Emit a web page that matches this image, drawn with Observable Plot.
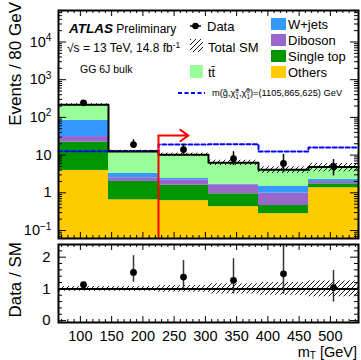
<!DOCTYPE html>
<html><head><meta charset="utf-8">
<script src="https://cdn.jsdelivr.net/npm/d3@7"></script>
<script src="https://cdn.jsdelivr.net/npm/@observablehq/plot@0.6"></script>
<style>
body{margin:0;background:#fff;}
#chart{width:361px;height:360px;position:relative;overflow:hidden;background:#fff;}
#chart svg{display:block;}
</style></head><body><div id="chart"></div>
<script>
// ---------- data ----------
const binEdges   = [65, 145, 225, 305, 385, 465, 545];      // mT [GeV], 80 GeV bins
const others     = [3.9, 0.65, 0.62, 0.43, 0.28, 1.36];
const singleTop  = [18.1, 1.35, 0.98, 0.51, 0.18, 0.37];
const diboson    = [9, 0.5, 0.6, 0.69, 0.52, 0.27];
const wjets      = [52, 0.8, 0.2, 0.07, 0.49, 0.25];
const ttbar      = [132, 9.2, 7.8, 4.6, 2.6, 2.55];
const dataCounts = [243, 19, 14, 8, 6, 5];
const dataLo     = [228, 15.1, 10.4, 5.3, 3.4, 2.8];
const dataHi     = [258, 25.6, 19.3, 12.3, 10.5, 7.6];
const sysRel     = [0.074, 0.074, 0.105, 0.16, 0.2, 0.25];
const signal     = [12.7, 12.8, 19, 19.5, 12.5, 16];
const cutValue   = [225];
const arrowEnd   = [273];
const arrowLevel = [33];
const processes  = ["Others", "Single top", "Diboson", "W+jets", "tt\u0304"];
const colors     = ["#ffcc00", "#009600", "#9966cc", "#3399ff", "#99ff99"];
const xTicksMajor = [100, 150, 200, 250, 300, 350, 400, 450, 500];
const yTicksMain  = [0.1, 1, 10, 100, 1000, 10000];
const yTicksRatio = [0, 1, 2];

// ---------- layout ----------
const FONT = "'Liberation Sans', Arial, Helvetica, sans-serif";
const W = 361, ML = 58, MR = 3;
const FW = W - ML - MR;
const yMinMain = 0.0614, yMaxMain = 6.84e4;

// ---------- derived tables ----------
const series = [others, singleTop, diboson, wjets, ttbar];
const nBins = binEdges.length - 1;
const totals = d3.range(nBins).map(i => d3.sum(series, s => s[i]));
const stackRows = [];
d3.range(nBins).forEach(i => {
  let cum = 0;
  series.forEach((s, k) => {
    const lo = cum; cum += s[i];
    stackRows.push({x1: binEdges[i], x2: binEdges[i + 1], y1: k === 0 ? yMinMain : lo, y2: cum, proc: processes[k]});
  });
});
const bins = d3.range(nBins).map(i => ({
  x1: binEdges[i], x2: binEdges[i + 1], c: (binEdges[i] + binEdges[i + 1]) / 2,
  t: totals[i], u: sysRel[i], d: dataCounts[i], lo: dataLo[i], hi: dataHi[i]
}));
const stepTotal = binEdges.map((e, i) => ({x: e, y: totals[Math.min(i, nBins - 1)]}));
const stepSignal = binEdges.map((e, i) => ({x: e, y: signal[Math.min(i, nBins - 1)]}));
const ratioRows = bins.map(b => ({c: b.c, r: b.d / b.t, lo: b.lo / b.t, hi: b.hi / b.t}));

const xMinor = d3.range(70, 545, 10).filter(v => v % 50 !== 0);
const yMinorMain = [];
for (let k = -2; k <= 4; k++) for (let m = 2; m <= 9; m++) {
  const v = m * Math.pow(10, k);
  if (v >= yMinMain && v <= yMaxMain) yMinorMain.push(v);
}
const yMinorRatio = d3.range(0.2, 2.4, 0.2).filter(v => Math.abs(v - Math.round(v)) > 1e-6);

function frameTicks(xMaj, xMin, yMaj, yMin, fh, lx, ly) {
  return [
    Plot.tickX(xMaj, {x: d => d, insetTop: fh - lx, stroke: "black"}),
    Plot.tickX(xMaj, {x: d => d, insetBottom: fh - lx, stroke: "black"}),
    Plot.tickX(xMin, {x: d => d, insetTop: fh - lx / 2, stroke: "black"}),
    Plot.tickX(xMin, {x: d => d, insetBottom: fh - lx / 2, stroke: "black"}),
    Plot.tickY(yMaj, {y: d => d, insetRight: FW - ly, stroke: "black"}),
    Plot.tickY(yMaj, {y: d => d, insetLeft: FW - ly, stroke: "black"}),
    Plot.tickY(yMin, {y: d => d, insetRight: FW - ly / 2, stroke: "black"}),
    Plot.tickY(yMin, {y: d => d, insetLeft: FW - ly / 2, stroke: "black"})
  ];
}
const hatchDefs = id => () => {
  const defs = d3.create("svg:defs");
  const p = defs.append("pattern").attr("id", id).attr("patternUnits", "userSpaceOnUse")
    .attr("width", 5).attr("height", 5);
  p.append("path").attr("d", "M-1,1 L1,-1 M0,5 L5,0 M4,6 L6,4")
    .attr("stroke", "black").attr("stroke-width", 0.9).attr("fill", "none");
  return defs.node();
};

// ---------- annotations / legend (main panel) ----------
const legendMark = () => {
  const g = d3.create("svg:g").attr("font-family", FONT).attr("fill", "black").attr("text-anchor", "start");
  // y-axis title
  g.append("text").attr("transform", "translate(15,2) rotate(-90)").attr("text-anchor", "end")
    .attr("dy", "0.35em").attr("font-size", 17).text("Events / 80 GeV");
  // ATLAS label
  const t1 = g.append("text").attr("x", 69).attr("y", 33);
  t1.append("tspan").attr("font-weight", "bold").attr("font-style", "italic").attr("font-size", 13.5).text("ATLAS");
  t1.append("tspan").attr("font-size", 12).text(" Preliminary");
  const t2 = g.append("text").attr("x", 67).attr("y", 52).attr("font-size", 12);
  t2.append("tspan").text("\u221As = 13 TeV, 14.8 fb");
  t2.append("tspan").attr("font-size", 8.5).attr("dy", -4.5).text("-1");
  g.append("text").attr("x", 80).attr("y", 73).attr("font-size", 10.5).text("GG 6J bulk");
  // left legend column
  g.append("line").attr("x1", 190).attr("x2", 201).attr("y1", 26).attr("y2", 26)
    .attr("stroke", "black").attr("stroke-width", 1.5);
  g.append("circle").attr("cx", 195.5).attr("cy", 26).attr("r", 3.3);
  g.append("text").attr("x", 207).attr("y", 30.5).attr("font-size", 13).text("Data");
  g.append("rect").attr("x", 190).attr("y", 39).attr("width", 13).attr("height", 13).attr("fill", "url(#hatchMain)");
  g.append("text").attr("x", 208).attr("y", 51.5).attr("font-size", 13).text("Total SM");
  g.append("rect").attr("x", 190).attr("y", 65).attr("width", 13).attr("height", 13).attr("fill", colors[4]);
  g.append("text").attr("x", 208).attr("y", 76.5).attr("font-size", 13).text(processes[4]);
  // right legend column (W+jets, Diboson, Single top, Others)
  [3, 2, 1, 0].forEach((k, j) => {
    const top = 18 + j * 16;
    g.append("rect").attr("x", 271).attr("y", top).attr("width", 15).attr("height", 12).attr("fill", colors[k]);
    g.append("text").attr("x", 288).attr("y", top + 11).attr("font-size", 13).text(processes[k]);
  });
  // signal legend
  g.append("line").attr("x1", 178).attr("x2", 205).attr("y1", 93).attr("y2", 93)
    .attr("stroke", "#0000ff").attr("stroke-width", 2).attr("stroke-dasharray", "4,2.5");
  const s = g.append("text").attr("x", 212).attr("y", 96.3).attr("font-size", 9.3);
  s.append("tspan").text("m(g\u0303,\u03C7\u0303");
  s.append("tspan").attr("font-size", 6.5).attr("dy", -3.5).text("\u00B1");
  s.append("tspan").attr("font-size", 6.5).attr("dx", -3.8).attr("dy", 6).text("1");
  s.append("tspan").attr("dy", -2.5).text(",\u03C7\u0303");
  s.append("tspan").attr("font-size", 6.5).attr("dy", -3.5).text("0");
  s.append("tspan").attr("font-size", 6.5).attr("dx", -3.6).attr("dy", 6).text("1");
  s.append("tspan").attr("dy", -2.5).text(")=(1105,865,625) GeV");
  return g.node();
};

// ---------- main panel ----------
const main = Plot.plot({
  width: W, height: 240, marginTop: 10, marginBottom: 2, marginLeft: ML, marginRight: MR,
  style: {fontFamily: FONT, fontSize: "14.5px", color: "black", background: "white", overflow: "visible"},
  x: {domain: [binEdges[0], binEdges[nBins]], axis: null},
  y: {type: "log", domain: [yMinMain, yMaxMain]},
  color: {domain: processes, range: colors},
  marks: [
    hatchDefs("hatchMain"),
    Plot.rect(stackRows, {x1: "x1", x2: "x2", y1: "y1", y2: "y2", fill: "proc", clip: true}),
    Plot.rect(bins, {x1: "x1", x2: "x2", y1: d => d.t * (1 - d.u), y2: d => d.t * (1 + d.u), fill: "url(#hatchMain)"}),
    Plot.line(stepSignal, {x: "x", y: "y", curve: "step-after", stroke: "#0000ff", strokeWidth: 2, strokeDasharray: "4,2.5"}),
    Plot.line(stepTotal, {x: "x", y: "y", curve: "step-after", stroke: "black", strokeWidth: 2}),
    Plot.ruleX(bins, {x: "c", y1: "lo", y2: "hi", stroke: "black", strokeWidth: 1.5}),
    Plot.dot(bins, {x: "c", y: "d", r: 3.4, fill: "black", stroke: null}),
    Plot.ruleX(cutValue, {x: d => d, y1: yMinMain, y2: arrowLevel[0], stroke: "red", strokeWidth: 2}),
    Plot.arrow(cutValue.map((c, i) => ({x1: c, x2: arrowEnd[i], y: arrowLevel[i]})),
      {x1: "x1", x2: "x2", y1: "y", y2: "y", stroke: "red", strokeWidth: 2, headLength: 10, headAngle: 70}),
    ...frameTicks(xTicksMajor, xMinor, yTicksMain, yMinorMain, 228, 6, 8),
    Plot.axisY(yTicksMain, {tickSize: 0, tickPadding: 7, label: null, fontSize: 14.5,
      tickFormat: v => v === 1 ? "1" : v === 10 ? "10" : "10^" + Math.round(Math.log10(v))}),
    Plot.frame({stroke: "black", strokeWidth: 2}),
    legendMark
  ]
});
// superscripts on log tick labels
d3.select(main).selectAll("text").each(function () {
  const t = this.textContent;
  if (this.childElementCount === 0 && /^10\^/.test(t)) {
    const e = t.split("^")[1];
    this.textContent = "10";
    d3.select(this).append("tspan").attr("font-size", "70%").attr("dy", "-0.55em").text(e.replace("-", "\u2212"));
  }
});

// ---------- ratio panel ----------
const ratioLabels = () => {
  const g = d3.create("svg:g").attr("font-family", FONT).attr("fill", "black").attr("text-anchor", "start");
  g.append("text").attr("transform", "translate(15,2) rotate(-90)").attr("text-anchor", "end")
    .attr("dy", "0.35em").attr("font-size", 17).text("Data / SM");
  const t = g.append("text").attr("x", 357).attr("y", 117).attr("text-anchor", "end").attr("font-size", 14.5);
  t.append("tspan").text("m");
  t.append("tspan").attr("font-size", 10).attr("dy", 2).text("T");
  t.append("tspan").attr("dy", -2).text(" [GeV]");
  return g.node();
};
const ratio = Plot.plot({
  width: W, height: 120, marginTop: 4, marginBottom: 38, marginLeft: ML, marginRight: MR,
  style: {fontFamily: FONT, fontSize: "14.5px", color: "black", background: "white", overflow: "visible"},
  x: {domain: [binEdges[0], binEdges[nBins]]},
  y: {domain: [-0.06, 2.4]},
  marks: [
    hatchDefs("hatchRatio"),
    Plot.rect(bins, {x1: "x1", x2: "x2", y1: d => 1 - d.u, y2: d => 1 + d.u, fill: "url(#hatchRatio)"}),
    Plot.ruleY([1], {stroke: "black", strokeWidth: 2}),
    Plot.ruleX(ratioRows, {x: "c", y1: "lo", y2: "hi", stroke: "#333", strokeWidth: 1.5, clip: true}),
    Plot.dot(ratioRows, {x: "c", y: "r", r: 3.4, fill: "black", stroke: null}),
    ...frameTicks(xTicksMajor, xMinor, yTicksRatio, yMinorRatio, 78, 6, 8),
    Plot.axisX(xTicksMajor, {tickSize: 0, tickPadding: 8, label: null, fontSize: 14.5}),
    Plot.axisY(yTicksRatio, {tickSize: 0, tickPadding: 8, label: null, fontSize: 15}),
    Plot.frame({stroke: "black", strokeWidth: 2}),
    ratioLabels
  ]
});

const chart = document.getElementById("chart");
chart.appendChild(main);
chart.appendChild(ratio);
</script>
</body></html>
